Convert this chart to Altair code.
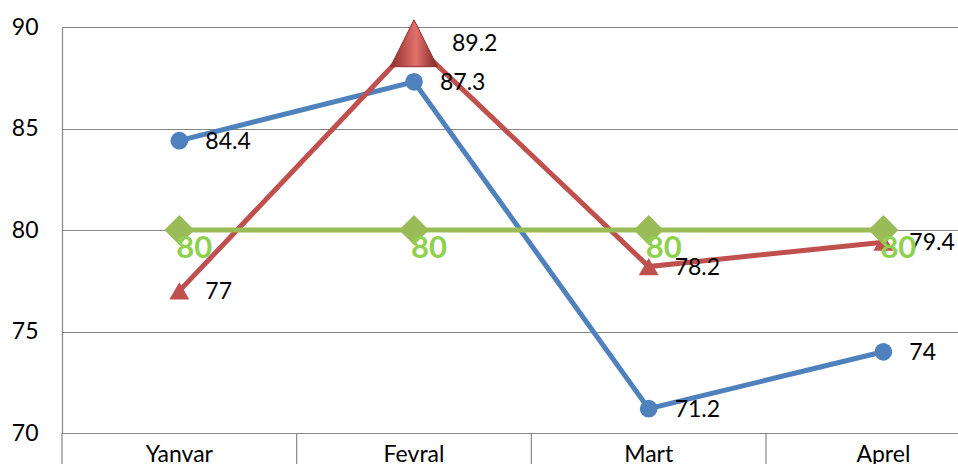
import altair as alt
import pandas as pd

# Monthly figures for three series
months = ["Yanvar", "Fevral", "Mart", "Aprel"]
series_blue = [84.4, 87.3, 71.2, 74]
series_red = [77, 89.2, 78.2, 79.4]
series_green = [80, 80, 80, 80]

W, H = 896, 406
GRID = "#868686"
BLUE, RED, GREEN = "#4F81BD", "#C0504D", "#9BBB59"
FONT = "Lato"

rows = []
for i, m in enumerate(months):
    rows.append({"idx": i, "month": m, "s": "blue", "v": series_blue[i]})
    rows.append({"idx": i, "month": m, "s": "red", "v": series_red[i]})
    rows.append({"idx": i, "month": m, "s": "green", "v": series_green[i]})
df = pd.DataFrame(rows)
df["lbl"] = df["v"].map(lambda v: f"{v:g}")
df["big"] = (df["s"] == "red") & (df["month"] == "Fevral")

x = alt.X("idx:Q", scale=alt.Scale(domain=[-0.5, 3.318], nice=False, zero=False), axis=None)
y = alt.Y(
    "v:Q",
    scale=alt.Scale(domain=[70, 90], nice=False, zero=False),
    axis=alt.Axis(
        values=[70, 75, 80, 85, 90], title=None, ticks=False, grid=True,
        gridColor=GRID, gridOpacity=1, gridWidth=1.2,
        domainColor=GRID, domainWidth=1.2,
        labelFont=FONT, labelFontSize=23, labelColor="black", labelPadding=24,
    ),
)

base = alt.Chart(df).encode(x=x, y=y)

def line(s, color):
    return base.transform_filter(alt.datum.s == s).mark_line(color=color, strokeWidth=5)

blue_line = line("blue", BLUE)
red_line = line("red", RED)
green_line = line("green", GREEN)

blue_pts = base.transform_filter(alt.datum.s == "blue").mark_point(
    shape="circle", size=314, filled=True, color=BLUE, opacity=1)
red_pts = base.transform_filter((alt.datum.s == "red") & (~alt.datum.big)).mark_point(
    shape="triangle-up", size=400, filled=True, color=RED, opacity=1)
red_big = base.transform_filter(alt.datum.big).mark_point(
    shape="M0,-1L1,1L-1,1Z", size=2200, filled=True, opacity=1,
    color=alt.LinearGradient(
        gradient="linear", x1=0, x2=1, y1=0, y2=0,
        stops=[alt.GradientStop(offset=0, color="#8E2F2C"),
               alt.GradientStop(offset=0.55, color="#E2706C"),
               alt.GradientStop(offset=1, color="#7E2624")]),
    stroke="#8E2F2C", strokeWidth=1)
green_pts = base.transform_filter(alt.datum.s == "green").mark_point(
    shape="diamond", size=900, filled=True, color=GREEN, opacity=1)

blue_lbl = base.transform_filter(alt.datum.s == "blue").mark_text(
    align="left", baseline="middle", dx=26, dy=1, font=FONT, fontSize=23, color="black"
).encode(text="lbl:N")
red_lbl = base.transform_filter((alt.datum.s == "red") & (~alt.datum.big)).mark_text(
    align="left", baseline="middle", dx=26, dy=1, font=FONT, fontSize=23, color="black"
).encode(text="lbl:N")
red_big_lbl = base.transform_filter(alt.datum.big).mark_text(
    align="left", baseline="middle", dx=38, dy=1, font=FONT, fontSize=23, color="black"
).encode(text="lbl:N")
green_lbl = base.transform_filter(alt.datum.s == "green").mark_text(
    align="center", baseline="middle", dx=15, dy=19, font=FONT, fontSize=31,
    fontWeight="bold", color="#8FD14F"
).encode(text="lbl:N")

# Category separators and names below the plot
cat_df = pd.DataFrame({"idx": list(range(len(months))), "month": months})
sep_df = pd.DataFrame({"edge": [-0.5, 0.5, 1.5, 2.5]})
seps = alt.Chart(sep_df).mark_rule(color=GRID, strokeWidth=1.2, clip=False).encode(
    x=alt.X("edge:Q", scale=alt.Scale(domain=[-0.5, 3.318], nice=False, zero=False), axis=None),
    y=alt.value(H), y2=alt.value(H + 40))
cats = alt.Chart(cat_df).mark_text(
    align="center", baseline="alphabetic", font=FONT, fontSize=23, color="black", clip=False
).encode(x=x, y=alt.value(H + 29), text="month:N")

chart = alt.layer(
    blue_line, red_line, green_line,
    blue_pts, red_pts, red_big, green_pts,
    blue_lbl, red_lbl, red_big_lbl, green_lbl,
    seps, cats,
).properties(
    width=W, height=H,
    autosize=alt.AutoSizeParams(type="none"),
    padding={"left": 62, "top": 27, "right": 0, "bottom": 31},
).configure_view(stroke=None).configure(background="white")

chart.save("out.html", embed_options={"renderer": "svg", "actions": False})
